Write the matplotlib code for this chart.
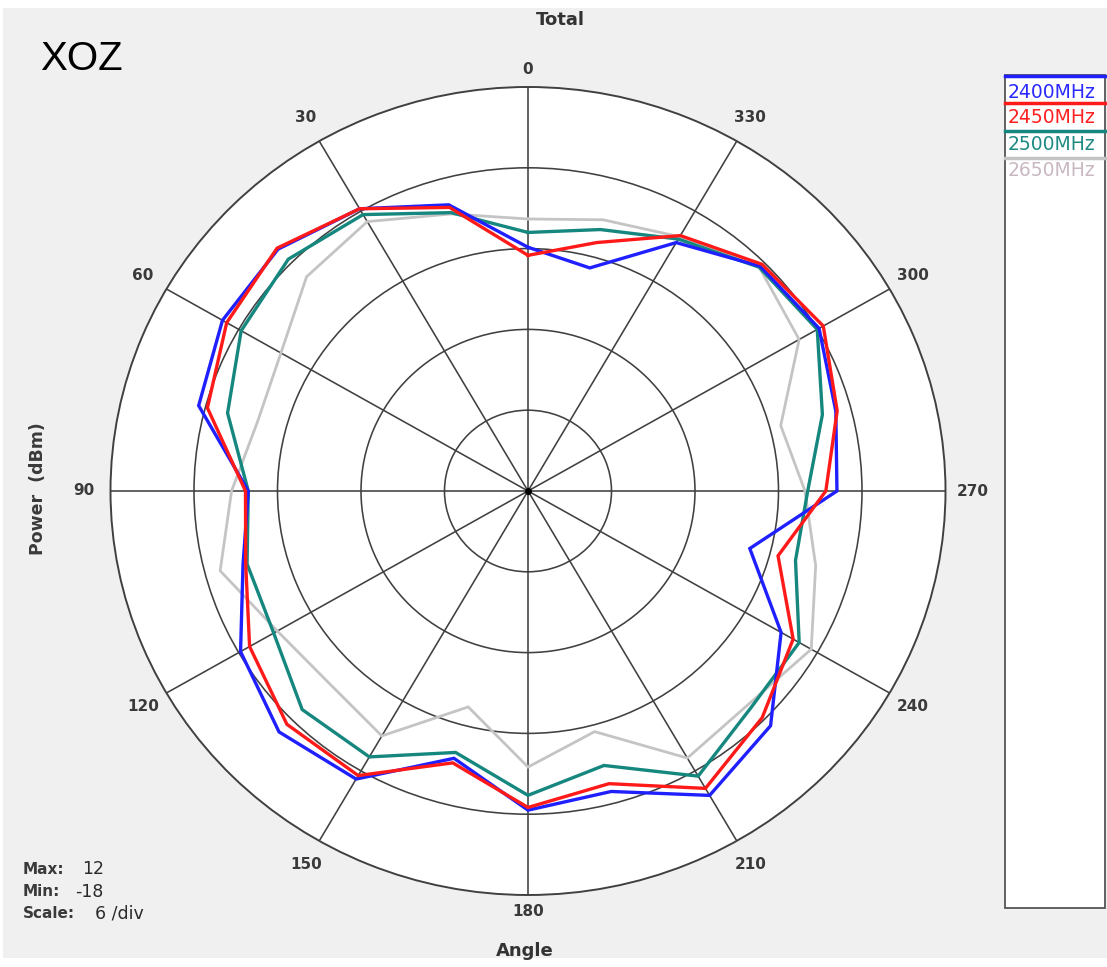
import numpy as np
import matplotlib
matplotlib.use("Agg")
import matplotlib.pyplot as plt
from matplotlib.patches import Rectangle
from matplotlib.lines import Line2D

# ---------------- data ----------------
angles_deg = list(range(0, 360, 15))
series_names = ["2400MHz", "2450MHz", "2500MHz", "2650MHz"]
p2400 = [0.1, 4.0, 6.2, 7.4, 7.35, 6.5, 2.1, 3.2, 5.85, 7.3, 6.7, 2.55,
         5.7, 5.1, 8.1, 6.65, 3.0, -1.5, 4.2, 4.9, 6.15, 5.6, 3.3, -0.85]
p2450 = [-0.5, 3.8, 6.2, 7.5, 7.0, 5.85, 2.3, 3.0, 5.1, 6.5, 6.4, 2.9,
         5.5, 4.5, 7.5, 5.8, 4.0, 0.6, 3.4, 5.0, 6.5, 5.8, 3.9, 1.1]
p2500 = [1.2, 3.4, 5.7, 6.35, 5.8, 4.35, 2.1, 2.9, 3.1, 4.95, 4.8, 2.1,
         4.6, 3.1, 6.45, 4.7, 4.5, 1.9, 2.1, 3.9, 6.0, 5.5, 3.6, 2.1]
p2650 = [2.2, 3.3, 5.1, 4.5, 2.5, 2.1, 3.3, 4.9, 2.8, 2.2, 3.0, -1.4,
         2.5, 0.5, 4.9, 4.4, 5.5, 3.4, 1.9, 0.8, 4.5, 5.5, 3.8, 2.85]
r_max, r_min, r_step = 12, -18, 6
angle_ticks = list(range(0, 360, 30))

colors = {"2400MHz": "#1f1fff", "2450MHz": "#ff1a1a", "2500MHz": "#15877f", "2650MHz": "#c4c4c4"}
legend_text_colors = {"2400MHz": "#2a2aff", "2450MHz": "#ff2020", "2500MHz": "#1f8a82", "2650MHz": "#c9b8c2"}

W, H = 1107, 967
fig = plt.figure(figsize=(W / 100, H / 100), dpi=100)
fig.patch.set_facecolor("white")

def fx(x):
    return x / W

def fy(y):
    return 1 - y / H

# gray panel background
fig.patches.append(Rectangle((fx(3), fy(958)), fx(1107) - fx(3), fy(8) - fy(958),
                             transform=fig.transFigure, facecolor="#f0f0f0",
                             edgecolor="none", zorder=-10))

# polar axes (slightly elliptical like the reference)
cx, cy = 528, 491
rx, ry = 417.5, 404
ax = fig.add_axes([fx(cx - rx), fy(cy + ry), 2 * rx / W, 2 * ry / H], projection="polar")
ax.set_aspect("auto")
ax.set_facecolor("white")
ax.set_theta_zero_location("N")
ax.set_theta_direction(1)
ax.set_ylim(r_min, r_max)
ax.set_yticks(np.arange(r_min + r_step, r_max, r_step))
ax.set_yticklabels([])
ax.set_xticks(np.deg2rad(angle_ticks))
ax.set_xticklabels([])
ax.tick_params(length=0)
ax.grid(True, color="#404040", lw=1.15)
ax.spines["polar"].set_color("#404040")
ax.spines["polar"].set_linewidth(1.4)

series = {"2400MHz": p2400, "2450MHz": p2450, "2500MHz": p2500, "2650MHz": p2650}
theta = np.deg2rad(angles_deg + [angles_deg[0]])
draw_order = ["2650MHz", "2500MHz", "2400MHz", "2450MHz"]
for name in draw_order:
    vals = series[name]
    lw = 2.0 if name == "2650MHz" else 2.4
    ax.plot(theta, vals + [vals[0]], color=colors[name], lw=lw, solid_joinstyle="miter", zorder=3)

ax.plot([0], [r_min], "o", color="black", ms=4, zorder=5)

# angle labels
for a in angle_ticks:
    t = np.deg2rad(a)
    d = 17 if a % 180 == 0 else 27
    dx = -np.sin(t) * d
    dy = np.cos(t) * d
    ax.annotate(str(a), xy=(t, r_max), xycoords="data", xytext=(dx, dy),
                textcoords="offset pixels", ha="center", va="center",
                fontsize=11, fontweight="bold", color="#3a3a3a",
                family="DejaVu Sans", annotation_clip=False)

# titles and texts
fig.text(fx(560), fy(20), "Total", ha="center", va="center", fontsize=13,
         fontweight="bold", color="#333333", family="DejaVu Sans")
fig.text(fx(525), fy(951), "Angle", ha="center", va="center", fontsize=13,
         fontweight="bold", color="#333333", family="DejaVu Sans")
fig.text(fx(38), fy(489), "Power  (dBm)", ha="center", va="center", rotation=90,
         fontsize=12.5, fontweight="bold", color="#3a3a3a", family="DejaVu Sans")
fig.text(fx(40), fy(59), "XOZ", ha="left", va="center", fontsize=29,
         color="black", family="Liberation Sans")

info_labels = ["Max:", "Min:", "Scale:"]
info_values = [str(r_max), str(r_min), f"{r_step} /div"]
info_y = [869, 892, 914]
info_vx = [82, 75, 95]
for lab, val, y, vx in zip(info_labels, info_values, info_y, info_vx):
    fig.text(fx(23), fy(y), lab, ha="left", va="center", fontsize=11,
             fontweight="bold", color="#3a3a3a", family="DejaVu Sans")
    fig.text(fx(vx), fy(y), val, ha="left", va="center", fontsize=12.5,
             color="#2a2a2a", family="DejaVu Sans")

# legend box
fig.patches.append(Rectangle((fx(1005), fy(908)), fx(1105) - fx(1005), fy(75) - fy(908),
                             transform=fig.transFigure, facecolor="white",
                             edgecolor="#555555", lw=1.3, zorder=1))
leg_line_y = [76, 103, 131, 158]
leg_text_y = [93, 118, 145, 171]
for name, ly, ty in zip(series_names, leg_line_y, leg_text_y):
    fig.lines.append(Line2D([fx(1005), fx(1105)], [fy(ly), fy(ly)], transform=fig.transFigure,
                            color=colors[name], lw=2.5, zorder=2))
    fig.text(fx(1008), fy(ty), name, ha="left", va="center", fontsize=13.5,
             color=legend_text_colors[name], family="DejaVu Sans", zorder=3)

fig.savefig("out.png", dpi=100, facecolor=fig.get_facecolor())
